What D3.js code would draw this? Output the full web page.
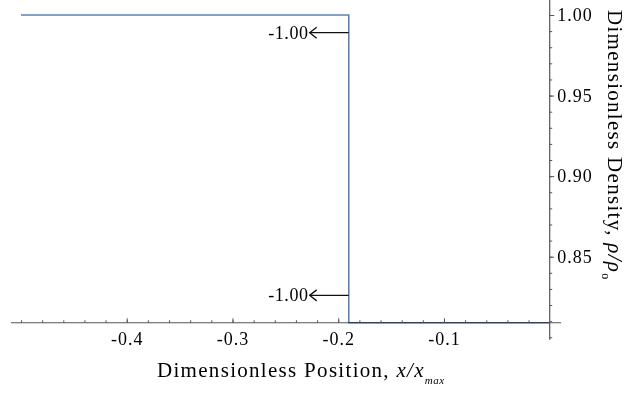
<!DOCTYPE html>
<html>
<head>
<meta charset="utf-8">
<script src="https://cdn.jsdelivr.net/npm/d3@7"></script>
<style>
	body { margin: 0; background: #fff; }
	svg { display: block; }
	text { font-family: "Liberation Serif", "Times New Roman", serif; fill: #000; }
</style>
</head>
<body>
<div id="viz"></div>
<script>
// density profile (step)
const xProfile = [-0.5, -0.19, -0.19, 0];
const rhoProfile = [1.0, 1.0, 0.809, 0.809];

// velocity arrows drawn at the step
const arrowX = -0.19;
const arrowLen = 0.037;
const arrowRho = [0.989, 0.826];
const arrowLabels = ["-1.00", "-1.00"];

// ticks
const xMajor = [-0.4, -0.3, -0.2, -0.1];
const yMajor = [0.85, 0.9, 0.95, 1.0];
const xAxisAt = 0.809; // rho where the x axis crosses
const yAxisAt = 0; // x where the y axis crosses

var width = 626,
	height = 398;

var svg = d3
	.select("#viz")
	.append("svg")
	.attr("width", width)
	.attr("height", height);

// set the ranges
var x = d3.scaleLinear().domain([-0.5, 0]).range([21, 549.7]);
var y = d3.scaleLinear().domain([0.85, 1.0]).range([256.7, 15]);

var axisColor = "#555";

// the density line (under the axes, so the overlap gets darker)
var line = d3
	.line()
	.x((d) => x(d[0]))
	.y((d) => y(d[1]));

svg
	.append("path")
	.datum(xProfile.map((v, i) => [v, rhoProfile[i]]))
	.attr("d", line)
	.attr("fill", "none")
	.attr("stroke", "#5e81b5")
	.attr("stroke-width", 1.6);

// axis lines, a bit longer than the data range
svg
	.append("line")
	.attr("x1", x(-0.5095))
	.attr("x2", x(0.0107))
	.attr("y1", y(xAxisAt))
	.attr("y2", y(xAxisAt))
	.attr("stroke", axisColor)
	.attr("stroke-width", 1.2)
	.style("mix-blend-mode", "multiply");

svg
	.append("line")
	.attr("x1", x(yAxisAt))
	.attr("x2", x(yAxisAt))
	.attr("y1", y(1.0093))
	.attr("y2", y(0.7985))
	.attr("stroke", axisColor)
	.attr("stroke-width", 1.2);

// X axis: minor + major ticks pointing up
var xMinorG = svg
	.append("g")
	.attr("transform", `translate(0, ${y(xAxisAt)})`)
	.call(
		d3
			.axisBottom(x)
			.tickValues(x.ticks(25).filter((t) => t > -0.501 && t < -0.001))
			.tickSize(-2.5)
			.tickFormat("")
	);

var xMajorG = svg
	.append("g")
	.attr("transform", `translate(0, ${y(xAxisAt)})`)
	.call(
		d3
			.axisBottom(x)
			.tickValues(xMajor)
			.tickSize(-4.5)
			.tickPadding(9)
			.tickFormat((d) => d.toFixed(1))
	);

// Y axis: minor + major ticks pointing right
var yDom = y.copy().domain([0.7985, 1.0093]);
var yMinorG = svg
	.append("g")
	.attr("transform", `translate(${x(yAxisAt)}, 0)`)
	.call(
		d3
			.axisRight(y)
			.tickValues(yDom.ticks(21).filter((t) => t >= 0.799 && t <= 1.001))
			.tickSize(2.5)
			.tickFormat("")
	);

var yMajorG = svg
	.append("g")
	.attr("transform", `translate(${x(yAxisAt)}, 0)`)
	.call(
		d3
			.axisRight(y)
			.tickValues(yMajor)
			.tickSize(4.5)
			.tickPadding(3)
			.tickFormat((d) => d.toFixed(2))
	);

[xMinorG, xMajorG, yMinorG, yMajorG].forEach((g) => {
	g.select(".domain").remove();
	g.selectAll(".tick line").attr("stroke", axisColor).attr("stroke-width", 1);
	g.selectAll(".tick text")
		.attr("font-family", '"Liberation Serif", serif')
		.attr("font-size", 18)
		.attr("letter-spacing", 1)
		.attr("fill", "#111");
});

// arrows with labels
var arrows = svg
	.append("g")
	.selectAll("g")
	.data(arrowRho.map((r, i) => ({ rho: r, label: arrowLabels[i] })))
	.join("g")
	.attr("transform", (d) => `translate(0, ${y(d.rho)})`);

arrows
	.append("line")
	.attr("x1", x(arrowX))
	.attr("x2", x(arrowX - arrowLen))
	.attr("stroke", "#111")
	.attr("stroke-width", 1.3);

arrows
	.append("path")
	.attr("d", () => {
		var tip = x(arrowX - arrowLen);
		return `M${tip + 7},-5.5 L${tip},0 L${tip + 7},5.5`;
	})
	.attr("fill", "none")
	.attr("stroke", "#111")
	.attr("stroke-width", 1.3);

arrows
	.append("text")
	.attr("x", x(arrowX - arrowLen) - 1)
	.attr("y", 6)
	.attr("text-anchor", "end")
	.attr("font-size", 18)
	.attr("letter-spacing", 0.6)
	.text((d) => d.label);

// axis titles
var xt = svg
	.append("text")
	.attr("x", 157)
	.attr("y", 377)
	.attr("font-size", 21)
	.attr("letter-spacing", 1.3);
xt.append("tspan").text("Dimensionless Position, ");
xt.append("tspan").attr("font-style", "italic").text("x/x");
xt.append("tspan")
	.attr("font-style", "italic")
	.attr("font-size", 11)
	.attr("letter-spacing", 0.5)
	.attr("dy", 7)
	.text("max");

var yt = svg
	.append("text")
	.attr("transform", "translate(608, 10) rotate(90)")
	.attr("font-size", 21)
	.attr("letter-spacing", 1.3);
yt.append("tspan").text("Dimensionless Density, ");
yt.append("tspan").attr("font-style", "italic").text("ρ/ρ");
yt.append("tspan").attr("font-size", 12).attr("dy", 6).text("o");
</script>
</body>
</html>
